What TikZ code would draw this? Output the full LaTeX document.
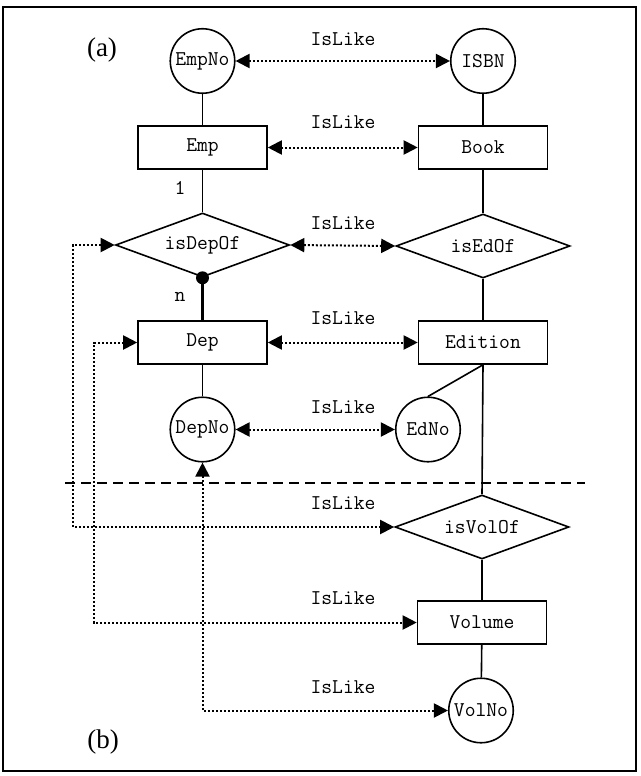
\documentclass[tikz,border=0pt]{standalone}
\usepackage{fontspec}
\setmainfont{Liberation Serif}
\usetikzlibrary{shapes.geometric,arrows.meta}

\tikzset{
  base/.style={draw, line width=1.6pt, inner sep=0pt,
    font=\ttfamily\fontsize{21}{23}\selectfont},
  entity/.style={base, rectangle, minimum width=129pt, minimum height=43pt},
  attrib/.style={base, circle, minimum size=64.5pt},
  relship/.style={base, diamond, shape aspect=2.72,
    minimum width=174pt, minimum height=64pt},
  link/.style={line width=1.6pt},
  islike/.style={line width=2pt, dash pattern=on 2pt off 2pt,
    {Triangle[length=14pt,width=14pt]}-{Triangle[length=14pt,width=14pt]}},
  lbl/.style={font=\ttfamily\fontsize{21}{23}\selectfont, inner sep=0pt},
  part/.style={font=\fontsize{27}{30}\selectfont, inner sep=0pt}
}

\begin{document}
\begin{tikzpicture}[x=1pt, y=-1pt]
  \useasboundingbox (0,0) rectangle (640,776);
  \fill[white] (0,0) rectangle (640,776);
  % outer frame
  \draw[line width=2.5pt] (3,7) rectangle (636,771);

  % panel labels
  \node[part] (pa) at (102,50) {(a)};
  \node[part] (pb) at (103,742) {(b)};

  % left schema
  \node[attrib]  (aEmpNo) at (202.5,61)    {EmpNo};
  \node[entity]  (eEmp)   at (202.5,147.5) {Emp};
  \node[relship] (rDep)   at (202.5,245)   {isDepOf};
  \node[entity]  (eDep)   at (202.5,342.5) {Dep};
  \node[attrib]  (aDepNo) at (202.5,429.5) {DepNo};

  % right schema
  \node[attrib]  (aISBN)  at (483,61)    {ISBN};
  \node[entity]  (eBook)  at (483,147.5) {Book};
  \node[relship] (rEd)    at (483,246)   {isEdOf};
  \node[entity]  (eEd)    at (483,342.5) {Edition};
  \node[attrib]  (aEdNo)  at (428,429.5) {EdNo};
  \node[relship] (rVol)   at (482,527)   {isVolOf};
  \node[entity]  (eVol)   at (482,622.5) {Volume};
  \node[attrib]  (aVolNo) at (481,710.5) {VolNo};

  % cardinalities
  \node[lbl] (c1) at (180,188) {1};
  \node[lbl] (cn) at (180,297) {n};

  % solid links
  \draw[link] (aEmpNo) -- (eEmp);
  \draw[link] (eEmp) -- (rDep);
  \draw[line width=2.5pt] (rDep.south) -- (eDep);
  \fill (rDep.south) circle (6.5pt);
  \draw[link] (eDep) -- (aDepNo);
  \draw[link] (aISBN) -- (eBook);
  \draw[link] (eBook) -- (rEd);
  \draw[link] (rEd) -- (eEd);
  \draw[link] (eEd.south) -- (aEdNo.north);
  \draw[link] (eEd.south) -- (rVol.north);
  \draw[link] (rVol) -- (eVol);
  \draw[link] (eVol) -- (aVolNo);

  % separator between the two parts
  \coordinate (sepL) at (65,483);
  \coordinate (sepR) at (585,483);
  \draw[line width=1.6pt, dash pattern=on 10pt off 6pt] (sepL) -- (sepR);

  % IsLike correspondences in (a)
  \draw[islike] (aEmpNo.east) -- (aISBN.west);
  \draw[islike] (eEmp.east) -- (eBook.west);
  \draw[islike] (rDep.east) -- (rEd.west);
  \draw[islike] (eDep.east) -- (eEd.west);
  \draw[islike] (aDepNo.east) -- (aEdNo.west);

  % IsLike correspondences from (a) to (b)
  \coordinate (j1) at (73,0);
  \coordinate (j2) at (94,0);
  \draw[islike] (rDep.west) -- (rDep.west -| j1) -- (rVol.west -| j1) -- (rVol.west);
  \draw[islike] (eDep.west) -- (eDep.west -| j2) -- (eVol.west -| j2) -- (eVol.west);
  \draw[islike] (aDepNo.south) -- (aDepNo.south |- aVolNo.west) -- (aVolNo.west);

  % IsLike labels
  \node[lbl] (l1) at (343,39)  {IsLike};
  \node[lbl] (l2) at (343,122) {IsLike};
  \node[lbl] (l3) at (343,223) {IsLike};
  \node[lbl] (l4) at (343,318) {IsLike};
  \node[lbl] (l5) at (343,407) {IsLike};
  \node[lbl] (l6) at (343,503) {IsLike};
  \node[lbl] (l7) at (343,598) {IsLike};
  \node[lbl] (l8) at (343,687) {IsLike};
\end{tikzpicture}
\end{document}
